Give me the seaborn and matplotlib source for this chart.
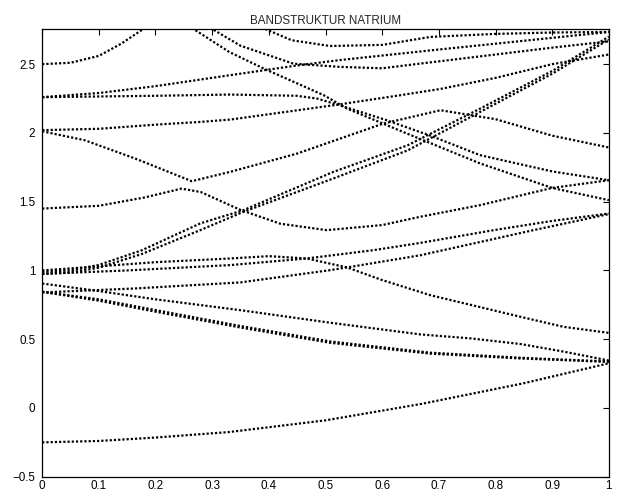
import matplotlib
matplotlib.use("Agg")
import matplotlib.pyplot as plt
import seaborn as sns

# Energy bands, one (x, y) list per visible track
lowest_x = [0, 0.1, 0.2, 0.33, 0.5, 0.67, 0.85, 1.0]
lowest_y = [-0.25, -0.24, -0.215, -0.175, -0.09, 0.03, 0.18, 0.325]

desc1_x = [0, 0.1, 0.2, 0.35, 0.508, 0.667, 0.756, 0.844, 0.92, 1.0]
desc1_y = [0.905, 0.85, 0.79, 0.711, 0.62, 0.535, 0.506, 0.465, 0.41, 0.345]

pair_a_x = [0, 0.1, 0.2, 0.35, 0.508, 0.685, 0.844, 1.0]
pair_a_y = [0.845, 0.78, 0.70, 0.585, 0.474, 0.395, 0.36, 0.335]
pair_b_y = [0.845, 0.79, 0.712, 0.596, 0.484, 0.402, 0.365, 0.338]

bump_x = [0, 0.1, 0.2, 0.332, 0.40, 0.467, 0.538, 0.6, 0.685, 0.844, 0.92, 1.0]
bump_y = [1.0, 1.03, 1.06, 1.087, 1.104, 1.087, 1.022, 0.93, 0.82, 0.663, 0.59, 0.546]

rise_c_x = [0, 0.15, 0.332, 0.467, 0.584, 0.667, 0.797, 0.9, 1.0]
rise_c_y = [0.975, 1.0, 1.039, 1.087, 1.147, 1.2, 1.293, 1.36, 1.414]

rise_d_x = [0, 0.164, 0.35, 0.508, 0.538, 0.667, 0.867, 1.0]
rise_d_y = [0.84, 0.869, 0.913, 1.002, 1.022, 1.11, 1.293, 1.41]

steep_x = [0, 0.05, 0.1, 0.176, 0.279, 0.355, 0.514, 0.645, 0.773, 0.9, 1.0]
steep_a_y = [0.99, 1.0, 1.04, 1.147, 1.342, 1.438, 1.717, 1.91, 2.177, 2.45, 2.70]
steep_b_y = [0.975, 0.985, 1.02, 1.12, 1.293, 1.426, 1.669, 1.873, 2.153, 2.43, 2.68]

hump_x = [0, 0.1, 0.18, 0.246, 0.28, 0.35, 0.42, 0.502, 0.6, 0.667, 0.773, 0.9, 1.0]
hump_y = [1.45, 1.47, 1.53, 1.595, 1.57, 1.44, 1.34, 1.293, 1.33, 1.39, 1.475, 1.6, 1.656]

trough_x = [0, 0.075, 0.164, 0.264, 0.332, 0.45, 0.602, 0.703, 0.8, 0.9, 1.0]
trough_y = [2.012, 1.947, 1.814, 1.649, 1.717, 1.85, 2.068, 2.165, 2.1, 1.98, 1.894]

g202_x = [0, 0.1, 0.2, 0.279, 0.332, 0.514, 0.632, 0.703, 0.8, 0.9, 1.0]
g202_y = [2.02, 2.03, 2.06, 2.08, 2.097, 2.201, 2.274, 2.32, 2.4, 2.5, 2.57]

flat_x = [0, 0.2, 0.332, 0.449, 0.485, 0.526, 0.608, 0.685, 0.773, 0.9, 1.0]
flat_y = [2.26, 2.27, 2.279, 2.27, 2.25, 2.2, 2.092, 1.98, 1.838, 1.72, 1.656]

up226_x = [0, 0.1, 0.2, 0.332, 0.449, 0.526, 0.685, 0.85, 1.0]
up226_y = [2.26, 2.29, 2.34, 2.42, 2.49, 2.53, 2.6, 2.67, 2.734]

fall_x = [0.258, 0.33, 0.391, 0.497, 0.538, 0.644, 0.773, 0.9, 1.0]
fall_y = [2.78, 2.589, 2.468, 2.274, 2.177, 1.995, 1.778, 1.6, 1.511]

top25_x = [0, 0.05, 0.1, 0.14, 0.18, 0.2]
top25_y = [2.5, 2.51, 2.56, 2.65, 2.76, 2.82]

line2_x = [0.29, 0.35, 0.443, 0.526, 0.6, 0.667, 0.8, 0.9, 1.0]
line2_y = [2.78, 2.634, 2.504, 2.48, 2.47, 2.504, 2.57, 2.62, 2.666]

dip_x = [0.38, 0.44, 0.508, 0.6, 0.685, 0.8, 0.9, 1.0]
dip_y = [2.78, 2.674, 2.632, 2.64, 2.698, 2.72, 2.73, 2.734]

bands = [
    (lowest_x, lowest_y), (desc1_x, desc1_y),
    (pair_a_x, pair_a_y), (pair_a_x, pair_b_y),
    (bump_x, bump_y), (rise_c_x, rise_c_y), (rise_d_x, rise_d_y),
    (steep_x, steep_a_y), (steep_x, steep_b_y),
    (hump_x, hump_y), (trough_x, trough_y), (g202_x, g202_y),
    (flat_x, flat_y), (up226_x, up226_y), (fall_x, fall_y),
    (top25_x, top25_y), (line2_x, line2_y), (dip_x, dip_y),
]

x_ticks = [0, 0.1, 0.2, 0.3, 0.4, 0.5, 0.6, 0.7, 0.8, 0.9, 1]
x_labels = ["0", "0.1", "0.2", "0.3", "0.4", "0.5", "0.6", "0.7", "0.8", "0.9", "1"]
y_ticks = [-0.5, 0, 0.5, 1, 1.5, 2, 2.5]
y_labels = ["\u22120.5", "0", "0.5", "1", "1.5", "2", "2.5"]

sns.set_style("white")
plt.rcParams["font.family"] = ["Liberation Sans", "DejaVu Sans"]

fig = plt.figure(figsize=(6.2, 4.93), dpi=100)
ax = fig.add_axes([0.068, 0.033, 0.914, 0.908])

for bx, by in bands:
    sns.lineplot(x=bx, y=by, ax=ax, color="black", linewidth=1.6,
                 linestyle=(0, (1.0, 0.9)), dash_capstyle="butt",
                 estimator=None, sort=False)

ax.set_xlim(0, 1)
ax.set_ylim(-0.5, 2.755)
ax.set_xticks(x_ticks)
ax.set_xticklabels(x_labels)
ax.set_yticks(y_ticks)
ax.set_yticklabels(y_labels)
ax.tick_params(direction="in", length=4, width=0.8, labelsize=8.4,
               top=True, right=True, colors="black")
ax.tick_params(axis="x", pad=2.5)
ax.tick_params(axis="y", pad=5)
for side in ax.spines.values():
    side.set_color("black")
    side.set_linewidth(0.9)
ax.set_title("BANDSTRUKTUR NATRIUM", fontsize=8.4, pad=4)

fig.savefig("out.png", dpi=100)
